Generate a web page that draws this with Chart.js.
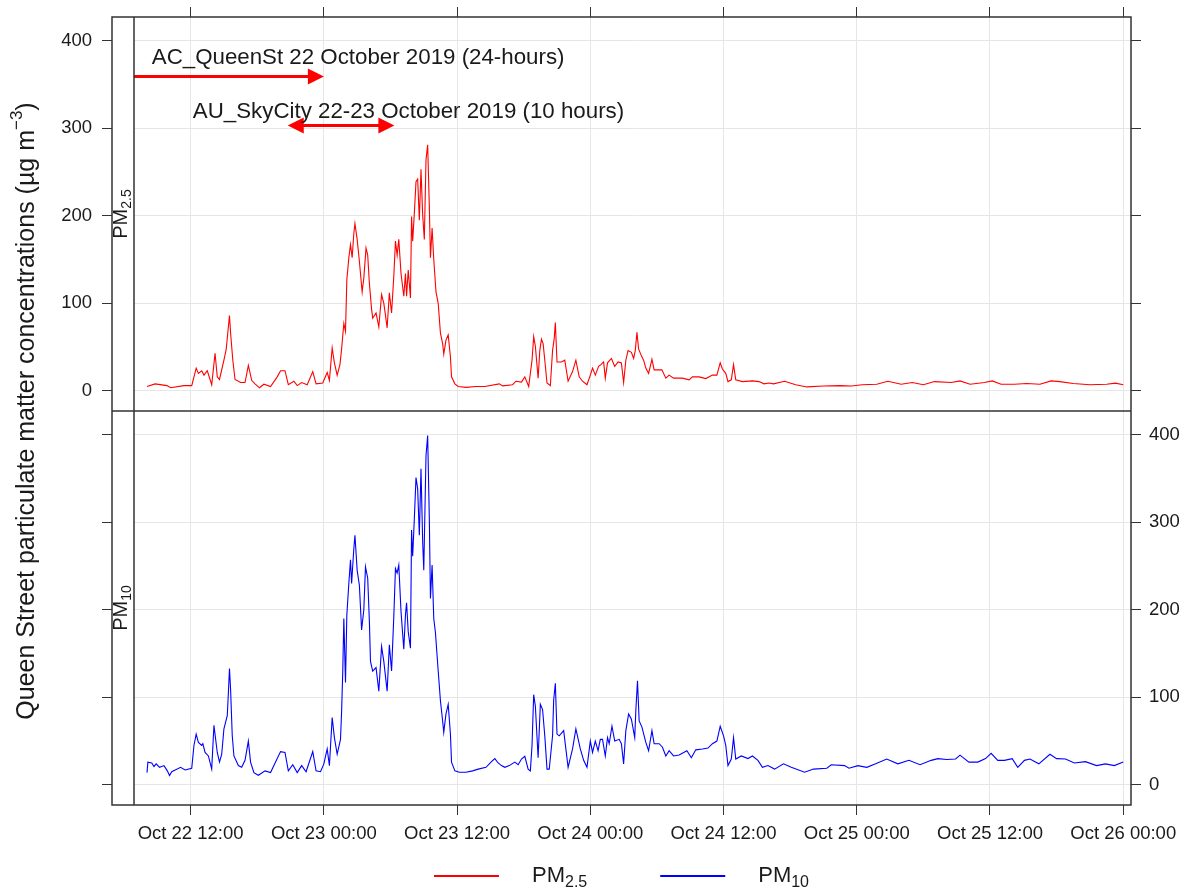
<!DOCTYPE html>
<html>
<head>
<meta charset="utf-8">
<script src="https://cdn.jsdelivr.net/npm/chart.js@4.4.0/dist/chart.umd.min.js"></script>
<style>
  html, body { margin: 0; background: #fff; }
  canvas { display: block; }
</style>
</head>
<body>
<canvas id="pmChart" width="1191" height="893"></canvas>
<script>
// hours since Oct 22 2019 00:00
const pm25Hours = [8.07, 8.8, 9.87, 10.2, 11.4, 12.1, 12.5, 12.7, 13.0, 13.2, 13.5, 13.9, 14.2, 14.4, 14.6, 15.0, 15.2, 15.5, 15.6, 15.8,
  16.0, 16.5, 16.9, 17.2, 17.5, 17.8, 18.2, 18.6, 19.2, 19.8, 20.1, 20.5, 20.8, 21.3, 21.6, 22.0, 22.5, 23.0, 23.3, 23.9,
  24.3, 24.5, 24.75, 24.95, 25.2, 25.45, 25.6, 25.8, 25.95, 26.07, 26.25, 26.4, 26.55, 26.7, 26.8, 27.0, 27.2, 27.45, 27.6, 27.8,
  27.95, 28.1, 28.3, 28.4, 28.7, 28.95, 29.2, 29.4, 29.5, 29.7, 29.9, 30.1, 30.3, 30.45, 30.6, 30.75, 30.95, 31.2, 31.35, 31.45,
  31.6, 31.8, 31.9, 32.0, 32.15, 32.3, 32.45, 32.6, 32.75, 32.9, 33.05, 33.2, 33.35, 33.5, 33.6, 33.75, 33.9, 34.1, 34.3, 34.5,
  34.7, 34.8, 35.0, 35.2, 35.4, 35.5, 35.8, 36.1, 36.8, 37.7, 38.5, 39.8, 40.1, 41.0, 41.3, 41.8, 42.1, 42.45, 42.75, 42.9,
  43.05, 43.3, 43.45, 43.6, 43.75, 43.9, 44.1, 44.4, 44.6, 44.75, 44.85, 45.0, 45.4, 45.7, 46.0, 46.4, 46.7, 47.0, 47.3, 47.7,
  48.0, 48.2, 48.45, 48.75, 48.95, 49.2, 49.35, 49.55, 49.9, 50.2, 50.5, 50.8, 51.0, 51.2, 51.4, 51.7, 51.9, 52.05, 52.2, 52.35,
  52.6, 52.8, 53.0, 53.25, 53.55, 53.75, 54.15, 54.45, 54.8, 55.1, 55.5, 56.3, 56.9, 57.2, 57.8, 58.4, 59.0, 59.4, 59.7, 59.9,
  60.2, 60.4, 60.7, 60.9, 61.1, 61.7, 62.6, 63.2, 63.65, 64.1, 64.5, 65.5, 66.5, 67.5, 69.0, 70.5, 71.5, 72.5, 73.8, 74.8,
  76.0, 77.0, 78.0, 79.0, 80.5, 81.3, 82.2, 83.5, 84.2, 85.0, 86.2, 87.3, 88.5, 89.5, 90.3, 91.5, 93.0, 94.5, 95.3, 96.0];
const pm25 = [5, 8, 6, 3.5, 6, 6, 26, 20, 23, 18, 23, 7, 43, 16, 13, 35, 47, 86, 66, 35,
  13, 9.5, 9.5, 29, 12, 8, 3.5, 7.6, 5, 16, 23, 23, 7, 11, 6, 9.5, 7, 22, 8, 9,
  21, 12, 49, 32, 18, 30, 48, 77, 68, 127, 152, 167, 152, 180, 191, 173, 148, 113, 129, 163,
  155, 123, 93, 83, 89, 73, 110, 100, 91, 72, 112, 89, 131, 171, 155, 173, 134, 108, 134, 108,
  138, 106, 199, 171, 203, 239, 242, 195, 253, 201, 173, 264, 281, 211, 152, 186, 150, 113, 100, 66,
  54, 42, 58, 64, 39, 16, 8, 5, 4, 5, 5, 8, 5.7, 7, 11, 10, 16, 5, 35, 62,
  51, 14.5, 46, 59, 54, 35, 9, 6, 46, 60, 78, 33, 33, 35, 11, 22, 35, 16, 11, 7,
  18, 26, 18, 28, 30, 33, 14.5, 32, 37, 28, 33, 32, 9.5, 35, 46, 44, 37, 46, 67, 48,
  40, 35, 26, 20, 36, 24, 24, 24, 14.5, 18, 14.5, 14.5, 12.6, 16, 16, 14, 18, 18, 32, 25,
  20, 10.6, 12.6, 30, 12.6, 10.6, 11.4, 10.6, 8, 9, 8, 11, 7, 4.5, 5.5, 6, 5.5, 7, 7.6, 11,
  7.6, 9.5, 7, 10.6, 9.5, 11.4, 7.6, 9.5, 11.4, 7.6, 7.6, 8.4, 7.6, 11.4, 10.5, 8.4, 7, 7.6, 8.8, 7];

const pm10Hours = [8.07, 8.15, 8.5, 8.7, 8.9, 9.2, 9.6, 9.9, 10.1, 10.3, 11.1, 11.5, 12.1, 12.3, 12.5, 12.7, 13.0, 13.1, 13.3, 13.6,
  13.9, 14.1, 14.4, 14.6, 14.8, 15.0, 15.3, 15.4, 15.5, 15.6, 15.75, 15.9, 16.3, 16.6, 16.9, 17.2, 17.4, 17.7, 18.1, 18.7,
  19.2, 19.8, 20.1, 20.5, 20.8, 21.2, 21.6, 22.0, 22.4, 23.0, 23.3, 23.7, 24.0, 24.3, 24.5, 24.75, 24.95, 25.2, 25.5, 25.6,
  25.7, 25.8, 25.95, 26.07, 26.25, 26.4, 26.5, 26.7, 26.8, 27.0, 27.2, 27.4, 27.6, 27.75, 27.95, 28.1, 28.2, 28.4, 28.7, 28.95,
  29.2, 29.4, 29.7, 29.9, 30.1, 30.3, 30.45, 30.6, 30.75, 30.95, 31.2, 31.35, 31.45, 31.6, 31.8, 31.9, 32.0, 32.15, 32.3, 32.45,
  32.6, 32.75, 32.9, 33.0, 33.2, 33.35, 33.5, 33.6, 33.75, 33.9, 34.05, 34.3, 34.5, 34.7, 34.8, 35.0, 35.2, 35.4, 35.5, 35.8,
  36.2, 36.8, 37.4, 37.9, 38.6, 39.1, 39.4, 39.7, 40.0, 40.3, 40.7, 41.2, 41.5, 41.8, 42.1, 42.4, 42.6, 42.75, 42.9, 43.05,
  43.3, 43.5, 43.7, 43.9, 44.1, 44.3, 44.6, 44.7, 44.85, 45.0, 45.2, 45.6, 46.0, 46.4, 46.7, 47.1, 47.4, 47.7, 48.0, 48.2,
  48.45, 48.7, 48.9, 49.1, 49.35, 49.55, 49.7, 49.95, 50.2, 50.6, 50.8, 51.0, 51.2, 51.45, 51.7, 52.0, 52.1, 52.25, 52.4, 52.65,
  53.0, 53.25, 53.55, 53.75, 54.2, 54.5, 54.8, 55.1, 55.5, 56.0, 56.7, 57.1, 57.5, 58.1, 58.6, 59.0, 59.4, 59.7, 60.0, 60.2,
  60.4, 60.7, 60.9, 61.1, 61.6, 62.2, 62.6, 63.1, 63.5, 64.0, 64.6, 65.4, 66.1, 67.3, 68.1, 69.3, 69.7, 70.9, 71.3, 72.1,
  72.9, 73.7, 74.7, 75.7, 76.7, 77.7, 78.7, 79.3, 80.1, 80.9, 81.3, 82.1, 82.9, 83.6, 84.1, 84.7, 85.3, 86.0, 86.5, 87.1,
  87.6, 88.4, 89.4, 90.0, 90.8, 91.6, 92.6, 93.6, 94.4, 95.2, 96.0];
const pm10 = [14, 26, 25, 21, 24, 20, 22, 16, 10.6, 15, 20, 17, 19, 45, 58, 48.5, 45, 47, 37, 33,
  18, 68, 37, 26, 35, 64, 79, 105, 133, 109, 56, 33, 22, 20, 28, 50, 26, 14, 11, 16,
  14, 30, 38, 37, 16, 23, 14, 22, 15, 38, 16, 15, 24, 41, 22, 77, 54, 35, 52, 84,
  128, 190, 117, 194, 230, 257, 230, 270, 285, 245, 228, 177, 200, 249, 236, 187, 141, 130, 134, 107,
  158, 141, 107, 160, 130, 192, 247, 242, 251, 198, 155, 194, 208, 175, 156, 291, 261, 304, 351, 338,
  285, 361, 278, 245, 376, 399, 304, 213, 251, 190, 174, 130, 96, 73, 60, 81, 92, 58, 26, 16,
  14.4, 14.4, 16, 18, 20, 26.5, 30, 25, 22, 20, 22, 26, 23, 29.5, 32.6, 18, 16, 45, 103, 90,
  31, 92, 86, 56, 18, 18, 56, 97, 116, 58, 56, 62, 20, 41, 64, 41, 28, 20, 50, 37,
  50, 39, 52, 52, 33, 54, 47, 67, 50, 52, 47, 24, 62, 81, 75, 54, 85, 119, 73, 66,
  48.5, 39, 62, 47, 47, 43, 33, 39, 33, 34, 39, 31, 40, 41, 42, 47, 50, 67, 56, 45,
  22, 29.5, 54, 29.5, 33, 30, 33, 28, 20, 22, 18, 24, 20, 14.4, 18, 19, 23, 22, 19, 22,
  20, 24, 29.5, 24, 28, 23, 28, 30, 29, 29.5, 34, 26, 26, 30, 36, 28, 28, 30, 20, 28,
  29.5, 24, 35, 30, 29.5, 25, 26.5, 22, 24, 22, 26];

const xTicks = [12, 24, 36, 48, 60, 72, 84, 96];
const xTickLabels = ['Oct 22 12:00', 'Oct 23 00:00', 'Oct 23 12:00', 'Oct 24 00:00',
  'Oct 24 12:00', 'Oct 25 00:00', 'Oct 25 12:00', 'Oct 26 00:00'];
const yTicks = [0, 100, 200, 300, 400];
const xMin = 6.9, xMax = 96.7;
const yMin = -23, yMax = 427;

// campaign annotations (top panel)
const noteText = ['AC_QueenSt 22 October 2019 (24-hours)', 'AU_SkyCity 22-23 October 2019 (10 hours)'];
const noteHour = [8.5, 12.2];
const noteLevel = [373, 312];
const arrowFrom = [6.9, 20.75];
const arrowTo = [24, 30.35];
const arrowLevel = [359, 303];
const arrowBoth = [false, true];

const FONT = '"Liberation Sans", Arial, sans-serif';
const gridColor = '#e6e6e6';
const axisColor = '#333333';
const textColor = '#1a1a1a';

const fixTicks = list => s => { s.ticks = list.map(v => ({ value: v })); };

function drawSub(ctx, x, y, base, sub, size) {
    ctx.font = size + 'px ' + FONT;
    ctx.fillText(base, x, y);
    const w = ctx.measureText(base).width;
    ctx.font = Math.round(size * 0.72) + 'px ' + FONT;
    ctx.fillText(sub, x + w, y + size * 0.3);
    return w + ctx.measureText(sub).width;
}

function subWidth(ctx, base, sub, size) {
    ctx.font = size + 'px ' + FONT;
    const w = ctx.measureText(base).width;
    ctx.font = Math.round(size * 0.72) + 'px ' + FONT;
    return w + ctx.measureText(sub).width;
}

function arrowHead(ctx, x, y, dir) {
    ctx.beginPath();
    ctx.moveTo(x, y);
    ctx.lineTo(x - dir * 16, y - 8);
    ctx.lineTo(x - dir * 16, y + 8);
    ctx.closePath();
    ctx.fill();
}

const panelPlugin = {
    id: 'panels',
    afterDatasetsDraw(chart) {
        const { ctx, scales: { x, yTop } } = chart;
        ctx.save();
        ctx.strokeStyle = '#ff0000';
        ctx.fillStyle = '#ff0000';
        ctx.lineWidth = 3;
        arrowFrom.forEach((h, i) => {
            const x0 = x.getPixelForValue(h);
            const x1 = x.getPixelForValue(arrowTo[i]);
            const y = yTop.getPixelForValue(arrowLevel[i]);
            ctx.beginPath();
            ctx.moveTo(arrowBoth[i] ? x0 + 12 : x0, y);
            ctx.lineTo(x1 - 12, y);
            ctx.stroke();
            arrowHead(ctx, x1, y, 1);
            if (arrowBoth[i]) arrowHead(ctx, x0, y, -1);
        });
        ctx.fillStyle = textColor;
        ctx.font = '22.3px ' + FONT;
        ctx.textAlign = 'left';
        ctx.textBaseline = 'alphabetic';
        noteText.forEach((t, i) => {
            ctx.fillText(t, x.getPixelForValue(noteHour[i]), yTop.getPixelForValue(noteLevel[i]));
        });
        ctx.restore();
    },
    afterDraw(chart) {
        const { ctx, chartArea, scales: { yTop } } = chart;
        const L = yTop.right, R = chartArea.right, T = chartArea.top, B = chartArea.bottom;
        const M = yTop.bottom, S = chartArea.left;
        ctx.save();

        // panel frame, separator and strip edge
        ctx.strokeStyle = axisColor;
        ctx.lineWidth = 1.5;
        ctx.strokeRect(L, T, R - L, B - T);
        ctx.beginPath();
        ctx.moveTo(L, M); ctx.lineTo(R, M);
        ctx.moveTo(S, T); ctx.lineTo(S, B);
        ctx.stroke();

        // strip labels
        ctx.fillStyle = textColor;
        ctx.textAlign = 'left';
        ctx.textBaseline = 'middle';
        [[(T + M) / 2, '2.5'], [(M + B) / 2, '10']].forEach(([cy, sub]) => {
            ctx.save();
            ctx.translate((L + S) / 2 - 2, cy);
            ctx.rotate(-Math.PI / 2);
            const w = subWidth(ctx, 'PM', sub, 20);
            drawSub(ctx, -w / 2, 0, 'PM', sub, 20);
            ctx.restore();
        });

        // y axis title
        ctx.save();
        ctx.translate(27, M);
        ctx.rotate(-Math.PI / 2);
        ctx.font = '25px ' + FONT;
        const t1 = 'Queen Street particulate matter concentrations (\u00b5g m';
        const w1 = ctx.measureText(t1).width;
        ctx.font = '17px ' + FONT;
        const w2 = ctx.measureText('\u22123').width;
        ctx.font = '25px ' + FONT;
        const w3 = ctx.measureText(')').width;
        let px = -(w1 + w2 + w3) / 2;
        ctx.fillText(t1, px, 0);
        px += w1;
        ctx.font = '17px ' + FONT;
        ctx.fillText('\u22123', px, -10);
        px += w2;
        ctx.font = '25px ' + FONT;
        ctx.fillText(')', px, 0);
        ctx.restore();

        // legend
        const items = [['#ff0000', '2.5'], ['#0000ff', '10']];
        const ly = B + 71;
        let total = 0;
        items.forEach(([, sub], i) => { total += 65 + 33 + subWidth(ctx, 'PM', sub, 22) + (i ? 0 : 73); });
        let lx = (L + R) / 2 - total / 2;
        ctx.lineWidth = 2;
        items.forEach(([col, sub]) => {
            ctx.strokeStyle = col;
            ctx.beginPath();
            ctx.moveTo(lx, ly); ctx.lineTo(lx + 65, ly);
            ctx.stroke();
            lx += 65 + 33;
            ctx.fillStyle = textColor;
            lx += drawSub(ctx, lx, ly, 'PM', sub, 22) + 73;
        });
        ctx.restore();
    }
};

// fixed axis sizes; drop label overhang padding so the panels fill the frame
const fitTo = (prop, size) => s => { s[prop] = size; s.paddingTop = 0; s.paddingBottom = 0; };

const yAxis = (extra) => Object.assign({
    type: 'linear',
    min: yMin,
    max: yMax,
    afterBuildTicks: fixTicks(yTicks),
    border: { display: false }
}, extra);

const tickFont = { family: FONT, size: 18.5 };
const markGrid = { drawOnChartArea: false, tickColor: axisColor, tickLength: 10 };

new Chart(document.getElementById('pmChart'), {
    type: 'line',
    data: {
        datasets: [
            {
                label: 'PM2.5',
                data: pm25Hours.map((h, i) => ({ x: h, y: pm25[i] })),
                borderColor: '#ff0000',
                borderWidth: 1.1,
                pointRadius: 0,
                tension: 0,
                xAxisID: 'x',
                yAxisID: 'yTop'
            },
            {
                label: 'PM10',
                data: pm10Hours.map((h, i) => ({ x: h, y: pm10[i] })),
                borderColor: '#0000ff',
                borderWidth: 1.1,
                pointRadius: 0,
                tension: 0,
                xAxisID: 'x',
                yAxisID: 'yBot'
            }
        ]
    },
    options: {
        responsive: false,
        animation: false,
        events: [],
        layout: { padding: 0 },
        plugins: { legend: { display: false }, tooltip: { enabled: false } },
        scales: {
            x: {
                type: 'linear', position: 'bottom', min: xMin, max: xMax,
                afterBuildTicks: fixTicks(xTicks),
                afterFit: s => { s.height = 88; },
                grid: { color: gridColor, tickColor: axisColor, tickLength: 10 },
                border: { display: false },
                ticks: {
                    autoSkip: false, maxRotation: 0, padding: 8, color: textColor, font: tickFont,
                    callback: v => xTickLabels[xTicks.indexOf(v)] ?? ''
                }
            },
            x2: {
                type: 'linear', position: 'top', min: xMin, max: xMax,
                afterBuildTicks: fixTicks(xTicks),
                afterFit: s => { s.height = 17; },
                grid: markGrid,
                border: { display: false },
                ticks: { display: false }
            },
            yTop: yAxis({
                position: 'left', stack: 'left', stackWeight: 1, weight: 4,
                afterFit: fitTo('width', 112),
                grid: { color: gridColor, tickColor: axisColor, tickLength: 10 },
                ticks: { padding: 10, color: textColor, font: tickFont }
            }),
            stripTop: {
                type: 'linear', position: 'left', stack: 'strip', stackWeight: 1, weight: 3, min: 0, max: 1,
                afterFit: fitTo('width', 22),
                grid: { display: false }, border: { display: false }, ticks: { display: false }
            },
            yBot: yAxis({
                position: 'left', stack: 'left', stackWeight: 1, weight: 2,
                afterFit: fitTo('width', 112),
                grid: { color: gridColor, tickColor: axisColor, tickLength: 10 },
                ticks: { display: false }
            }),
            stripBot: {
                type: 'linear', position: 'left', stack: 'strip', stackWeight: 1, weight: 1, min: 0, max: 1,
                afterFit: fitTo('width', 22),
                grid: { display: false }, border: { display: false }, ticks: { display: false }
            },
            yTopR: yAxis({
                position: 'right', stack: 'right', stackWeight: 1, weight: 0,
                afterFit: fitTo('width', 60),
                grid: markGrid,
                ticks: { display: false }
            }),
            yBotR: yAxis({
                position: 'right', stack: 'right', stackWeight: 1, weight: 1,
                afterFit: fitTo('width', 60),
                grid: markGrid,
                ticks: { padding: 8, color: textColor, font: tickFont }
            })
        }
    },
    plugins: [panelPlugin]
});
</script>
</body>
</html>
